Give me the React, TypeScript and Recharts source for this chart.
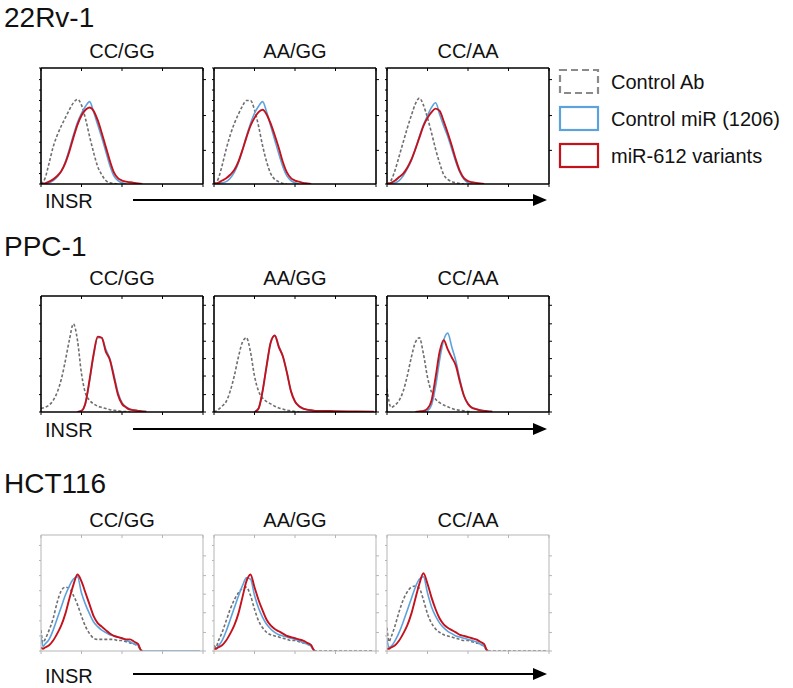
import React from 'react';
import { LineChart, Line, XAxis, YAxis } from 'recharts';

// ---------- data (x in decades of INSR intensity, y in % of panel height) ----------
const X1 = [0, 0.1, 0.2, 0.3, 0.4, 0.5, 0.6, 0.7, 0.8, 0.9, 1.0, 1.1, 1.2, 1.3, 1.4, 1.5, 1.6, 1.7, 1.8, 1.9, 2.0, 2.1, 2.2, 2.3, 2.4, 2.5];
const X2 = [0, 0.1, 0.2, 0.3, 0.4, 0.5, 0.6, 0.7, 0.8, 0.9, 1.0, 1.1, 1.2, 1.3, 1.4, 1.5, 1.6, 1.7, 1.8, 1.9, 2.0, 2.1, 2.2, 2.3, 2.4, 2.5, 2.6, 3.0, 3.5, 3.95];
const X3 = [0, 0.05, 0.1, 0.2, 0.3, 0.4, 0.5, 0.6, 0.7, 0.8, 0.9, 1.0, 1.1, 1.2, 1.3, 1.4, 1.5, 1.6, 1.7, 1.8, 1.9, 2.0, 2.1, 2.2, 2.3, 2.4, 2.46, 2.5, 3.0, 3.5, 3.93];

const panelTitles = ['CC/GG', 'AA/GG', 'CC/AA'];
const cellLines = ['22Rv-1', 'PPC-1', 'HCT116'];
const legendLabels = ['Control Ab', 'Control miR (1206)', 'miR-612 variants'];
const axisLabel = 'INSR';

// 22Rv-1
const r1Gray1 = [0, 5, 18, 32, 42, 50, 57, 64, 70, 73, 68, 56, 41, 27, 15, 8, 3, 1, 0.5, 0];
const r1Blue1 = [0, 0.5, 1, 3, 6, 11, 19, 30, 42, 53, 61, 67, 71, 62, 51, 40, 28, 16, 7, 3, 1, 0];
const r1Red1 = [0, 0.5, 2, 4, 7, 11, 18, 28, 40, 51, 59, 64, 66, 63, 55, 44, 32, 20, 10, 5, 3, 2, 1.5, 1, 0.5, 0];
const r1Gray2 = [0, 4, 16, 30, 42, 52, 60, 67, 72, 72, 64, 50, 33, 19, 9, 4, 2, 0.5, 0];
const r1Blue2 = [0, 0.5, 1, 2, 5, 10, 18, 29, 41, 52, 61, 67, 71, 62, 50, 38, 26, 15, 7, 3, 1, 0];
const r1Red2 = [0, 1, 3, 5, 8, 12, 19, 29, 40, 50, 57, 62, 64, 60, 52, 42, 31, 19, 10, 5, 3, 2, 1, 0.5, 0];
const r1Gray3 = [0, 3, 12, 24, 36, 48, 59, 69, 74, 68, 57, 44, 30, 18, 8, 4, 2, 1, 0.5, 0];
const r1Blue3 = [0, 0.5, 1, 3, 7, 13, 20, 30, 41, 51, 59, 66, 70, 60, 50, 41, 30, 19, 10, 4, 1, 0];
const r1Red3 = [0, 1, 3, 6, 9, 14, 21, 30, 40, 50, 57, 62, 65, 63, 54, 44, 33, 21, 11, 5, 2.5, 1.5, 1, 0.5, 0];

// PPC-1
const N = null;
const r2Gray1 = [3, 4, 6, 10, 17, 28, 44, 62, 76, 62, 33, 16, 10, 7, 5, 4, 3, 2, 1.5, 1, 0.5, 0.3, 0];
const r2Blue1 = [N, N, N, N, N, N, N, N, N, 0, 1, 8, 27, 49, 64, 64, 54, 46, 32, 17, 8, 4.5, 2.5, 1.5, 1, 0.5, 0.3];
const r2Red1 = [N, N, N, N, N, N, N, N, N, 0, 1, 8, 28, 50, 65, 64, 52, 45, 30, 15, 7, 4, 2, 1.5, 1, 0.5, 0.3];
const r2Gray2 = [0, 2, 5, 9, 18, 31, 47, 60, 64, 52, 31, 18, 12, 9, 7, 5, 3.5, 2.5, 1.5, 1, 0.5, 0];
const r2Blue2 = [N, N, N, N, N, N, N, N, N, N, 0, 3, 18, 40, 60, 66, 57, 48, 34, 18, 9, 5, 3, 2, 1.5, 1, 1];
const r2Red2 = [N, N, N, N, N, N, N, N, N, N, 0, 3, 18, 40, 60, 66, 56, 48, 34, 18, 9, 5, 3, 2, 1.5, 1, 1, 0.7, 0.5, 0.3];
const r2Gray3 = [20, 4, 6, 10, 18, 31, 47, 60, 64, 50, 30, 17, 11, 8, 6, 4.5, 3, 2, 1.5, 1, 0.5, 0];
const r2Blue3 = [N, N, N, N, N, N, N, N, N, 0, 1, 6, 22, 45, 62, 68, 56, 44, 28, 14, 7, 4, 2.5, 1.5, 1, 0.5, 0.3];
const r2Red3 = [N, N, N, N, N, N, N, 0, 0.5, 1, 3, 10, 30, 52, 62, 54, 47, 40, 26, 14, 7, 3.5, 2.5, 1.5, 1, 0.5, 0.3];

// HCT116
const r3Gray1 = [18, 7, 10, 18, 28, 42, 52, 55, 54, 48, 40, 30, 21, 15, 11, 10, 10, 10, 10, 10, 9, 9, 8, 7, 6, 4, 1, 0];
const r3Blue1 = [13, 4, 6, 10, 18, 28, 38, 48, 56, 62, 64, 50, 40, 32, 25, 21, 18, 16, 14, 13, 12, 11, 9, 8, 6, 5, 1, 0, 0, 0, 0];
const r3Red1 = [3, 2, 3, 5, 9, 15, 22, 32, 45, 57, 66, 60, 50, 40, 30, 24, 21, 18, 15, 13, 12, 11, 10, 10, 8, 6, 1, 0];
const r3Gray2 = [5, 3, 8, 16, 26, 36, 44, 50, 54, 55, 48, 36, 26, 20, 16, 14, 13, 12, 11, 10, 9, 9, 8, 7, 6, 4, 1, 0, 0, 0, 0];
const r3Blue2 = [3, 2, 4, 9, 17, 27, 37, 47, 56, 63, 62, 48, 37, 29, 23, 19, 16, 14, 13, 12, 11, 10, 9, 7, 6, 4, 1, 0];
const r3Red2 = [2, 2, 3, 5, 9, 15, 22, 32, 46, 60, 66, 55, 44, 35, 27, 22, 19, 17, 15, 13, 12, 11, 10, 9, 7, 5, 1, 0];
const r3Gray3 = [20, 8, 12, 22, 34, 44, 51, 55, 56, 54, 44, 32, 24, 19, 16, 14, 13, 12, 11, 10, 9, 9, 8, 7, 6, 4, 1, 0, 0, 0, 0];
const r3Blue3 = [10, 3, 4, 9, 16, 25, 35, 45, 55, 62, 64, 50, 38, 30, 24, 20, 17, 15, 13, 12, 11, 10, 9, 8, 6, 4, 1, 0];
const r3Red3 = [2, 2, 3, 5, 9, 15, 22, 32, 45, 58, 67, 58, 46, 36, 28, 23, 20, 18, 16, 14, 13, 12, 11, 10, 8, 6, 1, 0];

const xTicks = [0, 1, 2, 3, 4];
const row1LeftTicks = [0, 9, 18, 27, 36, 45, 54, 63, 72, 81, 90, 100];
const row1RightTicks = [29, 59, 90];
const row2Ticks = [0, 15, 31, 46, 61, 76, 92];
const row3LeftTicks = [0, 13, 26, 39, 52, 65, 78, 91];
const row3RightTicks = [0, 16, 33, 49, 65, 82];

// ---------- layout ----------
const W = 793;
const H = 688;
const PANEL_LEFTS = [41, 214, 387];
const PW = 162;
const PH = 116;
const GRAY = '#6f6f6f';
const BLUE = '#5ea2dc';
const RED = '#c4121c';

type Series = (number | null)[];
interface RowDef {
  name: string;
  x: number[];
  series: [Series, Series, Series][];
  top: number;
  frame: string;
  lw: number;
  leftTicks: number[];
  rightTicks: number[];
  titleY: number;
  subY: number;
  arrowY: number;
  insrY: number;
}

const rows: RowDef[] = [
  {
    name: cellLines[0], x: X1,
    series: [[r1Gray1, r1Blue1, r1Red1], [r1Gray2, r1Blue2, r1Red2], [r1Gray3, r1Blue3, r1Red3]],
    top: 68, frame: '#000', lw: 1.6, leftTicks: row1LeftTicks, rightTicks: row1RightTicks,
    titleY: 27, subY: 58, arrowY: 200, insrY: 208,
  },
  {
    name: cellLines[1], x: X2,
    series: [[r2Gray1, r2Blue1, r2Red1], [r2Gray2, r2Blue2, r2Red2], [r2Gray3, r2Blue3, r2Red3]],
    top: 296, frame: '#000', lw: 1.6, leftTicks: row2Ticks, rightTicks: row2Ticks,
    titleY: 256, subY: 285, arrowY: 429, insrY: 437,
  },
  {
    name: cellLines[2], x: X3,
    series: [[r3Gray1, r3Blue1, r3Red1], [r3Gray2, r3Blue2, r3Red2], [r3Gray3, r3Blue3, r3Red3]],
    top: 535, frame: '#b5b5b5', lw: 1, leftTicks: row3LeftTicks, rightTicks: row3RightTicks,
    titleY: 493, subY: 527, arrowY: 674, insrY: 683,
  },
];

const NoLabel = () => <g />;

function Hist(props: {
  x: number[]; s: [Series, Series, Series]; left: number; top: number;
  frame: string; lw: number; leftTicks: number[]; rightTicks: number[];
}) {
  const { x, s, left, top, frame, lw, leftTicks, rightTicks } = props;
  const data = x.map((xv, i) => ({
    x: xv,
    g: s[0][i] ?? null,
    b: s[1][i] ?? null,
    r: s[2][i] ?? null,
  }));
  const axisStyle = { stroke: frame, strokeWidth: lw };
  const tickStyle = { stroke: frame, strokeWidth: 1 };
  return (
    <div style={{ position: 'absolute', left: left - 4, top: top - 2 }}>
      <LineChart width={PW + 8} height={PH + 6} data={data} margin={{ top: 2, right: 0, bottom: 0, left: 0 }}>
        <XAxis xAxisId="b" dataKey="x" type="number" domain={[0, 4]} ticks={xTicks} tick={NoLabel}
          tickSize={3} height={4} axisLine={axisStyle} tickLine={tickStyle} allowDataOverflow interval={0} />
        <XAxis xAxisId="t" dataKey="x" type="number" orientation="top" mirror domain={[0, 4]} ticks={xTicks}
          tick={NoLabel} tickSize={3} axisLine={axisStyle} tickLine={tickStyle} allowDataOverflow interval={0} />
        <YAxis yAxisId="l" type="number" domain={[0, 100]} ticks={leftTicks} tick={NoLabel} tickSize={2}
          width={4} axisLine={axisStyle} tickLine={tickStyle} allowDataOverflow interval={0} />
        <YAxis yAxisId="r" type="number" orientation="right" domain={[0, 100]} ticks={rightTicks} tick={NoLabel}
          tickSize={3} width={4} axisLine={axisStyle} tickLine={tickStyle} allowDataOverflow interval={0} />
        <Line xAxisId="b" yAxisId="l" dataKey="g" type="monotone" stroke={GRAY} strokeWidth={1.6}
          strokeDasharray="3 2" dot={false} isAnimationActive={false} />
        <Line xAxisId="t" yAxisId="r" dataKey="b" type="monotone" stroke={BLUE} strokeWidth={1.6}
          dot={false} isAnimationActive={false} />
        <Line xAxisId="b" yAxisId="l" dataKey="r" type="monotone" stroke={RED} strokeWidth={1.9}
          dot={false} isAnimationActive={false} />
      </LineChart>
    </div>
  );
}

export default function App() {
  const font = '"Liberation Sans", Arial, sans-serif';
  return (
    <div style={{ position: 'absolute', left: 0, top: 0, width: W, height: H, background: '#fff', overflow: 'hidden' }}>
      {rows.map((row, ri) =>
        row.series.map((s, pi) => (
          <Hist key={`${ri}-${pi}`} x={row.x} s={s} left={PANEL_LEFTS[pi]} top={row.top}
            frame={row.frame} lw={row.lw} leftTicks={row.leftTicks} rightTicks={row.rightTicks} />
        ))
      )}
      <svg width={W} height={H} style={{ position: 'absolute', left: 0, top: 0, pointerEvents: 'none' }}
        fontFamily={font}>
        {rows.map((row, ri) => (
          <g key={ri}>
            <text x={4} y={row.titleY} fontSize={28} fill="#111">{row.name}</text>
            {panelTitles.map((t, pi) => (
              <text key={t} x={PANEL_LEFTS[pi] + PW / 2} y={row.subY} fontSize={20} textAnchor="middle" fill="#111">{t}</text>
            ))}
            <text x={45} y={row.insrY} fontSize={20} fill="#111">{axisLabel}</text>
            <line x1={133} y1={row.arrowY} x2={536} y2={row.arrowY} stroke="#000" strokeWidth={2} />
            <polygon points={`${533},${row.arrowY - 6} ${547},${row.arrowY} ${533},${row.arrowY + 6}`} fill="#000" />
          </g>
        ))}
        <rect x={560} y={70} width={38} height={23} fill="none" stroke="#8a8a8a" strokeWidth={2.2} strokeDasharray="7 4" />
        <rect x={560} y={107} width={38} height={23} fill="none" stroke={BLUE} strokeWidth={2.2} />
        <rect x={560} y={144} width={38} height={23} fill="none" stroke={RED} strokeWidth={2.2} />
        {legendLabels.map((l, i) => (
          <text key={l} x={611} y={89 + i * 37} fontSize={20} fill="#111">{l}</text>
        ))}
      </svg>
    </div>
  );
}
